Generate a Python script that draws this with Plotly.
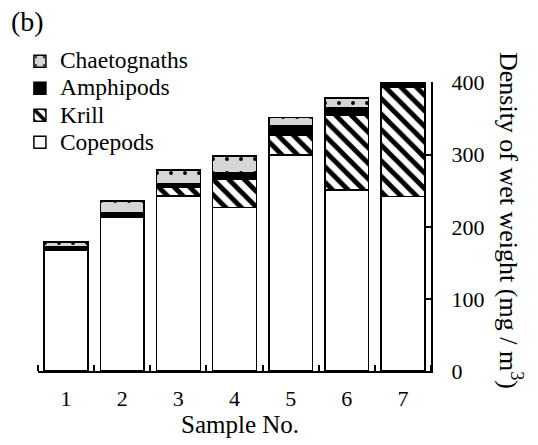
import plotly.graph_objects as go

# Sample numbers and wet-weight density (mg / m^3) of each group
samples = [1, 2, 3, 4, 5, 6, 7]
copepods = [168, 214, 243, 227, 300, 251, 242]
krill = [0, 0, 12, 39, 27, 104, 152]
amphipods = [4, 5, 5, 9, 13, 10, 6]
chaetognaths = [7, 17, 19, 23, 12, 14, 0]

y_ticks = [0, 100, 200, 300, 400]
boundaries = [s - 0.5 for s in samples] + [samples[-1] + 0.5]

FONT = "Liberation Serif, Times New Roman, serif"
# larger legend text while keeping the row spacing of an 18.5px legend font
LEGEND_TEXT = '<span style="font-size:23.5px">{}</span>'
outline = dict(color="black", width=1.5)

fig = go.Figure()
fig.add_trace(go.Bar(
    x=samples, y=copepods, name=LEGEND_TEXT.format("Copepods"),
    marker=dict(color="white", line=outline),
))
fig.add_trace(go.Bar(
    x=samples, y=krill, name=LEGEND_TEXT.format("Krill"),
    marker=dict(color="white", line=outline,
                pattern=dict(shape="\\", fgcolor="black", bgcolor="white",
                             fgopacity=1, size=11, solidity=0.45)),
))
fig.add_trace(go.Bar(
    x=samples, y=amphipods, name=LEGEND_TEXT.format("Amphipods"),
    marker=dict(color="black", line=outline),
))
fig.add_trace(go.Bar(
    x=samples, y=chaetognaths, name=LEGEND_TEXT.format("Chaetognaths"),
    marker=dict(color="#d6d6d6", line=outline,
                pattern=dict(shape=".", fgcolor="black", bgcolor="#d6d6d6",
                             fgopacity=1, size=14, solidity=0.06)),
))

fig.update_layout(
    width=538, height=445,
    margin=dict(l=38, r=107, t=82, b=74, autoexpand=False),
    paper_bgcolor="white", plot_bgcolor="white",
    barmode="stack", bargap=0.22,
    font=dict(family=FONT, size=22, color="black"),
    showlegend=True,
    legend=dict(
        x=-0.046, y=1.136, xanchor="left", yanchor="top",
        traceorder="reversed", bgcolor="rgba(0,0,0,0)",
        font=dict(family=FONT, size=18.5, color="black"),
    ),
    xaxis=dict(
        range=[0.5, 7.5], tickvals=samples, ticktext=[str(s) for s in samples],
        ticks="", showline=True, linecolor="black", linewidth=2,
        showgrid=False, zeroline=False, ticklabelstandoff=7,
        automargin=False,
        minor=dict(tickvals=boundaries, ticks="inside", ticklen=6,
                   tickwidth=1.5, tickcolor="black", showgrid=False),
        tickfont=dict(size=22),
    ),
    yaxis=dict(
        range=[0, 401], side="right", tickvals=y_ticks,
        ticks="inside", ticklen=6, tickwidth=1.5, tickcolor="black",
        showline=True, linecolor="black", linewidth=2,
        showgrid=False, zeroline=False, ticklabelstandoff=14,
        automargin=False, tickfont=dict(size=22),
    ),
    annotations=[
        dict(text="(b)", xref="paper", yref="paper", x=-0.075, y=1.21,
             xanchor="left", yanchor="middle", showarrow=False,
             font=dict(size=28)),
        dict(text="Sample No.", xref="paper", yref="paper", x=0.515,
             y=-0.186, xanchor="center", yanchor="middle", showarrow=False,
             font=dict(size=25)),
        dict(text="Density of wet weight (mg / m<sup>3</sup>)",
             xref="paper", yref="paper", x=1.204, y=0.522,
             xanchor="center", yanchor="middle", textangle=90,
             showarrow=False, font=dict(size=26)),
    ],
)

fig.write_html("out.html")
